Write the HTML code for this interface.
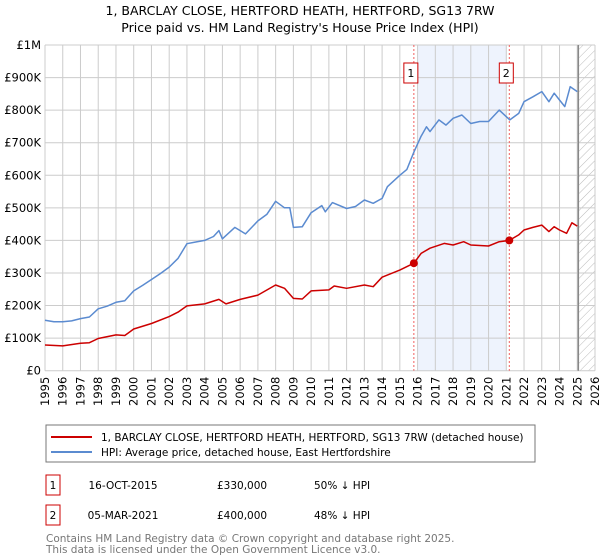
<!DOCTYPE html>
<html><head><meta charset="utf-8"><style>
body{margin:0;background:#fff;font-family:"DejaVu Sans","Liberation Sans",sans-serif;}
svg{display:block}
</style></head><body>
<svg id="c" width="600" height="560" viewBox="0 0 600 560">
<text x="300" y="15" text-anchor="middle" font-size="12.5" fill="#000">1, BARCLAY CLOSE, HERTFORD HEATH, HERTFORD, SG13 7RW</text>
<text x="300" y="32" text-anchor="middle" font-size="12.5" fill="#000">Price paid vs. HM Land Registry's House Price Index (HPI)</text>
<g id="plot"></g>
<rect x="46" y="425" width="489" height="37" fill="#fff" stroke="#777"/>
<line x1="51" y1="437" x2="92" y2="437" stroke="#cc0000" stroke-width="2"/>
<text x="101" y="441" font-size="10.5">1, BARCLAY CLOSE, HERTFORD HEATH, HERTFORD, SG13 7RW (detached house)</text>
<line x1="51" y1="452" x2="92" y2="452" stroke="#5b8bd0" stroke-width="2"/>
<text x="101" y="456" font-size="10.5">HPI: Average price, detached house, East Hertfordshire</text>
<g font-size="10.5">
<rect x="46" y="475" width="14" height="20" fill="#fff" stroke="#cc0000"/><text x="53" y="489" text-anchor="middle">1</text>
<text x="123" y="489" text-anchor="middle">16-OCT-2015</text><text x="217" y="489">£330,000</text><text x="314" y="489">50% ↓ HPI</text></g>
<g font-size="10.5">
<rect x="46" y="505" width="14" height="20" fill="#fff" stroke="#cc0000"/><text x="53" y="519" text-anchor="middle">2</text>
<text x="123" y="519" text-anchor="middle">05-MAR-2021</text><text x="217" y="519">£400,000</text><text x="314" y="519">48% ↓ HPI</text></g>
<text x="46" y="542" font-size="10.5" fill="#777">Contains HM Land Registry data © Crown copyright and database right 2025.</text>
<text x="46" y="553" font-size="10.5" fill="#777">This data is licensed under the Open Government Licence v3.0.</text>
</svg>
<script>
const hpiYears=[1995,1995.5,1996,1996.5,1997,1997.5,1998,1998.5,1999,1999.5,2000,2000.5,2001,2001.5,2002,2002.5,2003,2003.5,2004,2004.5,2004.8,2005,2005.7,2006,2006.3,2007,2007.5,2008,2008.5,2008.8,2009,2009.5,2010,2010.6,2010.8,2011.2,2012,2012.5,2013,2013.5,2014,2014.3,2015,2015.4,2015.8,2016.2,2016.5,2016.7,2017.2,2017.6,2018,2018.5,2019,2019.5,2020,2020.6,2021,2021.2,2021.7,2022,2022.5,2023,2023.4,2023.7,2024,2024.3,2024.6,2025];
const hpiValues=[155,150,150,153,160,165,190,198,210,215,245,262,280,298,318,345,390,395,400,412,430,405,440,430,420,460,480,520,500,500,440,442,485,507,488,516,498,504,524,514,529,565,600,618,672,720,749,734,770,754,775,785,759,765,765,800,780,770,790,826,841,857,826,852,831,811,872,857];
const ppYears=[1995,1996,1997,1997.5,1998,1999,1999.5,2000,2001,2002,2002.5,2003,2004,2004.8,2005.2,2006,2007,2008,2008.5,2009,2009.5,2010,2011,2011.3,2012,2013,2013.5,2014,2015,2015.79,2016.2,2016.7,2017.5,2018,2018.6,2019,2020,2020.6,2021.17,2021.7,2022,2022.5,2023,2023.4,2023.7,2024,2024.4,2024.7,2025];
const ppValues=[79,76,84,86,99,110,108,128,145,166,180,199,205,219,205,219,232,263,253,222,220,245,248,260,253,263,258,287,309,330,360,376,391,386,396,386,383,396,400,417,432,440,447,427,442,432,422,454,444];
const saleYears=[2015.79,2021.17];
const saleValues=[330,400];
const yTicks=[0,100,200,300,400,500,600,700,800,900,1000];
const yLabels=["£0","£100K","£200K","£300K","£400K","£500K","£600K","£700K","£800K","£900K","£1M"];
const NS="http://www.w3.org/2000/svg";
const L=45,R=595,T=45,B=370.7;
const x=y=>L+(y-1995)*(R-L)/31;
const yv=v=>B-v*(B-T)/1000;
const g=document.getElementById('plot');
function mk(t,a){const e=document.createElementNS(NS,t);for(const k in a)e.setAttribute(k,a[k]);g.appendChild(e);return e;}
const defs=mk('defs',{});
defs.innerHTML='<pattern id="h" width="6" height="6" patternUnits="userSpaceOnUse" patternTransform="rotate(45)"><line x1="0" y1="0" x2="0" y2="6" stroke="#bbb" stroke-width="1"/></pattern>';
let e=mk('rect',{x:x(2016),y:T,width:x(2021)-x(2016),height:B-T,fill:'#eef3fd'});


e=mk('rect',{x:x(2025.06),y:T,width:R-x(2025.06),height:B-T,fill:'url(#h)'});


for(let yr=1995;yr<=2026;yr++){
 e=mk('line',{x1:x(yr),x2:x(yr),y1:T,y2:B,stroke:'#ccc','stroke-width':1});
 
 
 e=mk('text',{x:0,y:0,'font-size':11.5,'text-anchor':'end',transform:`translate(${x(yr)+4},${B+6}) rotate(-90)`});
 e.textContent=yr;
 
 
}
yTicks.forEach((v,i)=>{
 e=mk('line',{x1:L,x2:R,y1:yv(v),y2:yv(v),stroke:'#ccc','stroke-width':1});
 
 
 e=mk('text',{x:L-4,y:yv(v)+4,'font-size':11.5,'text-anchor':'end'});
 e.textContent=yLabels[i];
 
 
});
e=mk('line',{x1:x(2025.06),x2:x(2025.06),y1:T,y2:B,stroke:'#888','stroke-width':1.5});


saleYears.forEach((yr,i)=>{
 e=mk('line',{x1:x(yr),x2:x(yr),y1:T,y2:B,stroke:'#f06060','stroke-width':1,'stroke-dasharray':'2,2'});
 
 
});
function path(xs,vs,c,n){const d=xs.map((a,i)=>(i?'L':'M')+x(a).toFixed(1)+','+yv(vs[i]).toFixed(1)).join('');
 const p=mk('path',{d:d,fill:'none',stroke:c,'stroke-width':1.5,'stroke-linejoin':'round'});
 
 }
path(hpiYears,hpiValues,'#5b8bd0','hpi-line');
path(ppYears,ppValues,'#cc0000','price-paid-line');
saleYears.forEach((yr,i)=>{
 e=mk('circle',{cx:x(yr),cy:yv(saleValues[i]),r:4,fill:'#cc0000'});
 
 
 const bx=x(yr)-7;
 e=mk('rect',{x:bx-3,y:63,width:14,height:20,fill:'#fff',stroke:'#cc0000'});
 
 
 e=mk('text',{x:bx+4,y:77,'font-size':11,'text-anchor':'middle'});
 e.textContent=String(i+1);
 
 
});
</script>
</body></html>
